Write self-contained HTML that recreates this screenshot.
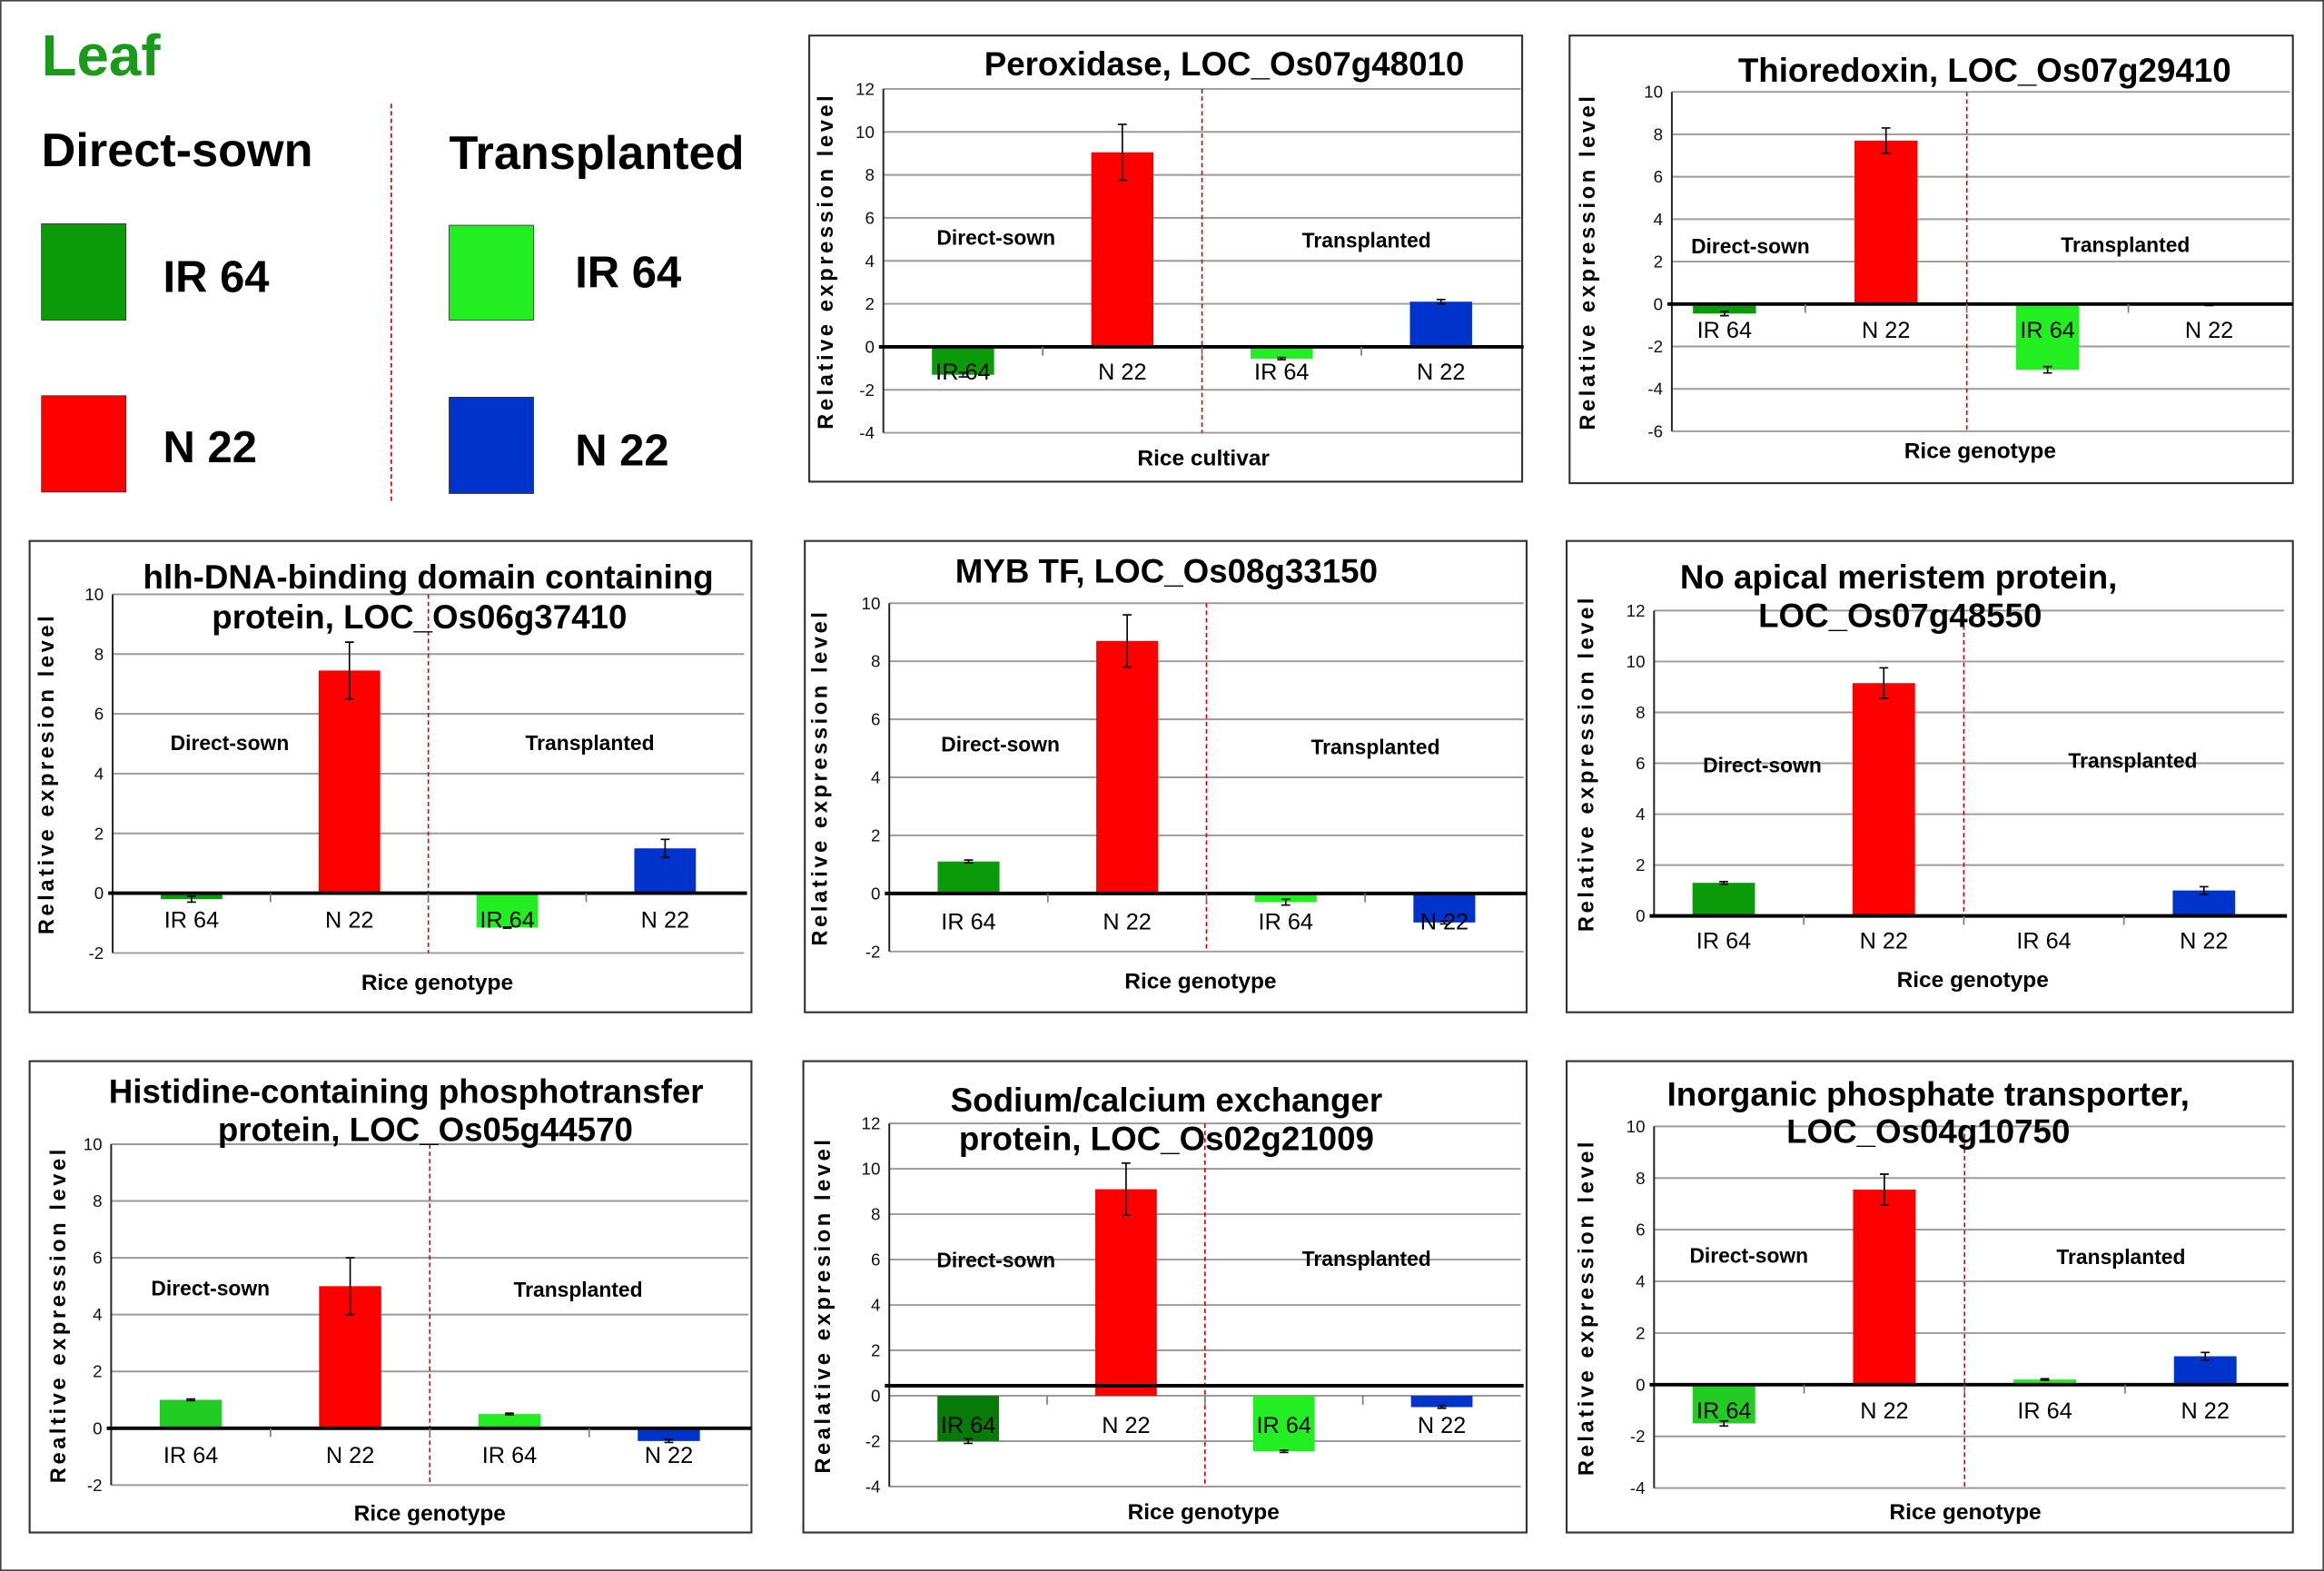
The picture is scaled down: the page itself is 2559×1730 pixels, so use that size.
<!DOCTYPE html>
<html><head><meta charset="utf-8"><style>
html,body{margin:0;padding:0;background:#fff;}
svg{display:block;}
text{font-family:"Liberation Sans",Arial,sans-serif;}
</style></head><body>
<svg id="fig" xmlns="http://www.w3.org/2000/svg" width="2559" height="1730" viewBox="0 0 1568 1060" preserveAspectRatio="none">
<rect x="0.5" y="0.5" width="1567" height="1059" fill="#fff" stroke="#444" stroke-width="1"/>
<g>
<text x="28" y="51" font-size="39" font-weight="bold" fill="#1a9a1a">Leaf</text>
<text x="28" y="112" font-size="32" font-weight="bold">Direct-sown</text>
<text x="303" y="114" font-size="32" font-weight="bold">Transplanted</text>
<line x1="264" y1="70" x2="264" y2="340" stroke="#c00" stroke-width="1" stroke-dasharray="3,2"/>
<rect x="28" y="151" width="57" height="65" fill="#0a9a0a" stroke="#333" stroke-width="0.5"/>
<rect x="28" y="267" width="57" height="65" fill="#ff0000" stroke="#333" stroke-width="0.5"/>
<rect x="303" y="152" width="57" height="64" fill="#22ee22" stroke="#333" stroke-width="0.5"/>
<rect x="303" y="268" width="57" height="65" fill="#0033cc" stroke="#333" stroke-width="0.5"/>
<text x="110" y="197" font-size="30" font-weight="bold">IR 64</text>
<text x="110" y="312" font-size="30" font-weight="bold">N 22</text>
<text x="388" y="194" font-size="30" font-weight="bold">IR 64</text>
<text x="388" y="314" font-size="30" font-weight="bold">N 22</text>
</g>
</svg>
<script>
const categories = ["IR 64","N 22","IR 64","N 22"];
const peroxidaseValues = [-1.3, 9.05, -0.55, 2.1];
const peroxidaseErrors = [0.1, 1.3, 0.05, 0.1];
const thioredoxinValues = [-0.45, 7.7, -3.1, -0.05];
const thioredoxinErrors = [0.1, 0.6, 0.15, 0.02];
const hlhValues = [-0.2, 7.45, -1.15, 1.5];
const hlhErrors = [0.1, 0.95, 0.02, 0.3];
const mybValues = [1.1, 8.7, -0.3, -1.0];
const mybErrors = [0.05, 0.9, 0.1, 0.05];
const napValues = [1.3, 9.15, 0.0, 1.0];
const napErrors = [0.05, 0.6, 0.0, 0.15];
const histidineValues = [1.0, 5.0, 0.5, -0.45];
const histidineErrors = [0.03, 1.0, 0.03, 0.05];
const sodiumValues = [-2.0, 9.1, -2.45, -0.5];
const sodiumErrors = [0.1, 1.15, 0.05, 0.05];
const phosphateValues = [-1.5, 7.55, 0.2, 1.1];
const phosphateErrors = [0.1, 0.6, 0.03, 0.15];
const ticksM4to12 = [-4,-2,0,2,4,6,8,10,12];
const ticksM6to10 = [-6,-4,-2,0,2,4,6,8,10];
const ticksM2to10 = [-2,0,2,4,6,8,10];
const ticks0to12 = [0,2,4,6,8,10,12];
const ticksM4to10 = [-4,-2,0,2,4,6,8,10];

const NS = "http://www.w3.org/2000/svg";
const svg = document.getElementById('fig');
function el(tag, attrs, parent, txt){
  const e = document.createElementNS(NS, tag);
  for (const k in attrs) e.setAttribute(k, attrs[k]);
  if (txt !== undefined) e.textContent = txt;
  parent.appendChild(e);
  return e;
}
function drawPanel(p, values, errors, ticks){
  const g = el('g', {}, svg);
  
  
  const box = el('rect', {x:p.box[0], y:p.box[1], width:p.box[2]-p.box[0], height:p.box[3]-p.box[1], fill:'#fff', stroke:'#333', 'stroke-width':1.3}, g);
  
  
  const ymin = ticks[0], ymax = ticks[ticks.length-1];
  const y = v => p.yTop + (ymax - v) / (ymax - ymin) * (p.yBot - p.yTop);
  const cw = (p.x1 - p.x0) / categories.length;
  const cx = i => p.x0 + (i + 0.5) * cw;
  const ax0 = p.axisX !== undefined ? p.axisX : p.x0;
  ticks.forEach(t => {
    const gl = el('line', {x1:ax0, x2:p.x1, y1:y(t), y2:y(t), stroke:'#9a9a9a', 'stroke-width':1.2}, g);
    
    
    const tl = el('text', {x:ax0-6, y:y(t)+4, 'font-size':11.5, 'text-anchor':'end', fill:'#111'}, g, String(t));
    
    
  });
  const ax = el('line', {x1:ax0, x2:ax0, y1:p.yTop, y2:p.yBot, stroke:'#222', 'stroke-width':1.2}, g);
  
  
  const dv = el('line', {x1:p.x0+2*cw, x2:p.x0+2*cw, y1:p.yTop, y2:p.yBot, stroke:'#d00', 'stroke-width':1, 'stroke-dasharray':'3,2'}, g);
  
  
  const colors = p.colors;
  values.forEach((v, i) => {
    const top = Math.min(y(v), y(0)), h = Math.abs(y(v) - y(0));
    const b = el('rect', {x:cx(i)-cw*0.195, y:top, width:cw*0.39, height:h, fill:colors[i]}, g);
    
    
  });
  const y0 = p.zeroLineY !== undefined ? p.zeroLineY : y(0);
  const zl = el('line', {x1:ax0-3, x2:p.x1+2, y1:y0, y2:y0, stroke:'#000', 'stroke-width':2.4}, g);
  
  
  for (let i = 1; i < categories.length; i++){
    const tk = el('line', {x1:p.x0+i*cw, x2:p.x0+i*cw, y1:y(0), y2:y(0)+6, stroke:'#777', 'stroke-width':1}, g);
    
    
  }
  values.forEach((v, i) => {
    const e = errors[i];
    if (e <= 0) return;
    const x = cx(i);
    const eb = el('path', {d:`M${x} ${y(v+e)}V${y(v-e)}M${x-3} ${y(v+e)}H${x+3}M${x-3} ${y(v-e)}H${x+3}`, stroke:'#000', 'stroke-width':1, fill:'none'}, g);
    
    
  });
  categories.forEach((c, i) => {
    const cl = el('text', {x:cx(i), y:p.labelY+6, 'font-size':15.5, 'text-anchor':'middle', fill:'#000'}, g, c);
    
    
  });
  p.title.forEach((t, k) => {
    const tt = el('text', {x:p.titleX[k], y:p.titleY[k]+8, 'font-size':22.5, 'font-weight':'bold', 'text-anchor':'middle'}, g, t);
    
    
  });
  const ds = el('text', {x:p.ds[0], y:p.ds[1]+5, 'font-size':14, 'font-weight':'bold', 'text-anchor':'middle'}, g, 'Direct-sown');
  
  
  const tp = el('text', {x:p.tp[0], y:p.tp[1]+5, 'font-size':14, 'font-weight':'bold', 'text-anchor':'middle'}, g, 'Transplanted');
  
  
  const xt = el('text', {x:p.xt[0], y:p.xt[1]+5, 'font-size':15, 'font-weight':'bold', 'text-anchor':'middle'}, g, p.xTitle);
  
  
  const ym = (p.yTop + p.yBot) / 2;
  const yt = el('text', {x:0, y:0, 'font-size':14.5, 'font-weight':'bold', 'letter-spacing':2.2, 'text-anchor':'middle', transform:`translate(${p.ytX},${ym}) rotate(-90)`}, g, p.yTitle);
  
  
}
const C = ['#0a9a0a','#ff0000','#22ee22','#0033cc'];
drawPanel({name:'peroxidase', box:[546,24,1027,325], x0:596, x1:1026, yTop:60, yBot:292, colors:C, labelY:250,
  title:['Peroxidase, LOC_Os07g48010'], titleX:[826], titleY:[43], ds:[672,160], tp:[922,162], xt:[812,309], xTitle:'Rice cultivar', ytX:562, yTitle:'Relative expression level'},
  peroxidaseValues, peroxidaseErrors, ticksM4to12);
drawPanel({name:'thioredoxin', box:[1059,24,1547,326], x0:1109, x1:1545, axisX:1128, yTop:62, yBot:291, colors:C, labelY:222,
  title:['Thioredoxin, LOC_Os07g29410'], titleX:[1339], titleY:[47], ds:[1181,166], tp:[1434,165], xt:[1336,304], xTitle:'Rice genotype', ytX:1076, yTitle:'Relative expression level'},
  thioredoxinValues, thioredoxinErrors, ticksM6to10);
drawPanel({name:'hlh', box:[20,365,507,683], x0:76, x1:502, yTop:401, yBot:643, colors:C, labelY:620,
  title:['hlh-DNA-binding domain containing','protein, LOC_Os06g37410'], titleX:[289,283], titleY:[389,416], ds:[155,501], tp:[398,501], xt:[295,663], xTitle:'Rice genotype', ytX:36, yTitle:'Relative expresion level'},
  hlhValues, hlhErrors, ticksM2to10);
drawPanel({name:'myb', box:[543,365,1030,683], x0:600, x1:1028, yTop:407, yBot:642, colors:C, labelY:621,
  title:['MYB TF, LOC_Os08g33150'], titleX:[787], titleY:[385], ds:[675,502], tp:[928,504], xt:[810,662], xTitle:'Rice genotype', ytX:558, yTitle:'Relative expression level'},
  mybValues, mybErrors, ticksM2to10);
drawPanel({name:'no-apical-meristem', box:[1057,365,1547,683], x0:1109, x1:1541, axisX:1116, yTop:412, yBot:618, colors:C, labelY:634,
  title:['No apical meristem protein,','LOC_Os07g48550'], titleX:[1281,1282], titleY:[389,415], ds:[1189,516], tp:[1439,513], xt:[1331,661], xTitle:'Rice genotype', ytX:1075, yTitle:'Relative expression level'},
  napValues, napErrors, ticks0to12);
drawPanel({name:'histidine', box:[20,716,507,1034], x0:75, x1:505, yTop:772, yBot:1002, colors:['#22cc22','#ff0000','#22ee22','#0033cc'], labelY:981,
  title:['Histidine-containing phosphotransfer','protein, LOC_Os05g44570'], titleX:[274,287], titleY:[736,762], ds:[142,869], tp:[390,870], xt:[290,1021], xTitle:'Rice genotype', ytX:44, yTitle:'Realtive expression level'},
  histidineValues, histidineErrors, ticksM2to10);
drawPanel({name:'sodium-calcium', box:[542,716,1030,1034], x0:600, x1:1026, yTop:758, yBot:1003, colors:['#087a08','#ff0000','#22ee22','#0033cc'], labelY:961, zeroLineY:935,
  title:['Sodium/calcium exchanger','protein, LOC_Os02g21009'], titleX:[787,787], titleY:[742,768], ds:[672,850], tp:[922,849], xt:[812,1020], xTitle:'Rice genotype', ytX:560, yTitle:'Realative expresion level'},
  sodiumValues, sodiumErrors, ticksM4to12);
drawPanel({name:'phosphate-transporter', box:[1057,716,1547,1034], x0:1109, x1:1542, axisX:1116, yTop:760, yBot:1004, colors:['#22cc22','#ff0000','#22ee22','#0033cc'], labelY:951,
  title:['Inorganic phosphate transporter,','LOC_Os04g10750'], titleX:[1301,1301], titleY:[738,763], ds:[1180,847], tp:[1431,848], xt:[1326,1020], xTitle:'Rice genotype', ytX:1075, yTitle:'Relative expression level'},
  phosphateValues, phosphateErrors, ticksM4to10);
</script>
</body></html>
